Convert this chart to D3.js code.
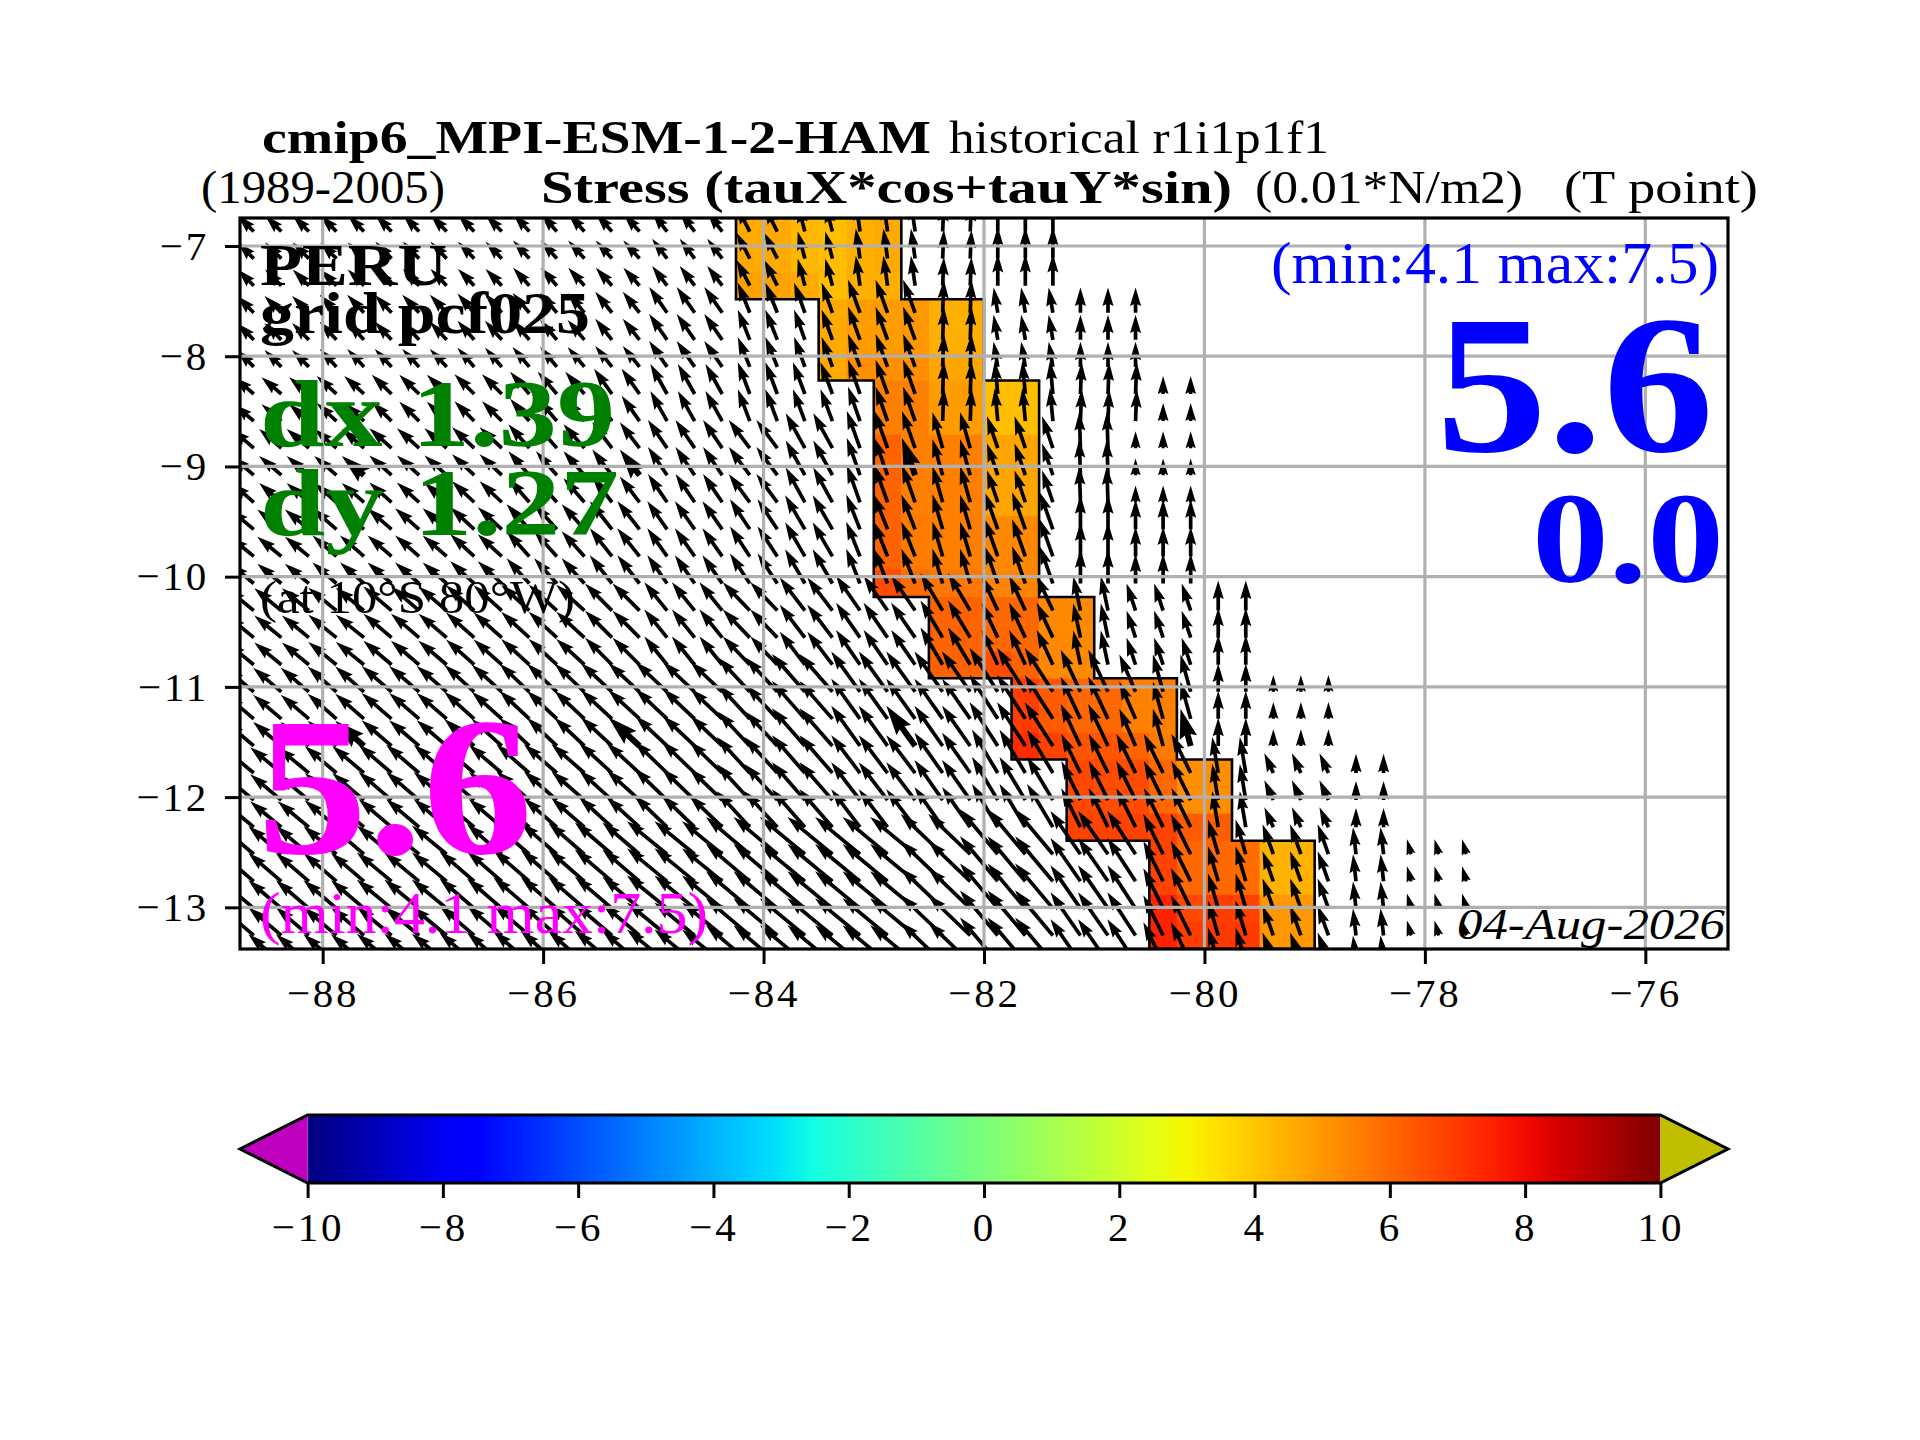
<!DOCTYPE html>
<html>
<head>
<meta charset="utf-8">
<script src="https://cdn.jsdelivr.net/npm/d3@7"></script>
<style>
  body { margin: 0; background: #fff; }
  text { font-family: "Liberation Serif", serif; }
</style>
</head>
<body>
<svg id="chart" width="1920" height="1440"></svg>
<script>
// axis ticks
const lon_ticks = [-88, -86, -84, -82, -80, -78, -76];
const lat_ticks = [-7, -8, -9, -10, -11, -12, -13];
const cbar_ticks = [-10, -8, -6, -4, -2, 0, 2, 4, 6, 8, 10];

// colored cells: one row per grid row from the top, first filled column then values
const cell_first_col = [18, 18, 18, 21, 21, 21, 23, 23, 23, 23, 23, 23, 23, 23, 25, 25, 25, 28, 28, 28, 30, 30, 30, 33, 33, 33, 33];
const cell_values = [
    [4.6, 4.6, 4.3, 4.15, 4.5, 4.6],
    [4.6, 4.6, 4.3, 4.15, 4.5, 4.6],
    [4.8, 4.8, 4.6, 4.15, 4.5, 4.5],
    [4.6, 4.9, 4.9, 5.0, 4.5, 4.5],
    [4.6, 4.9, 4.9, 5.0, 4.5, 4.5],
    [4.6, 5.2, 5.2, 5.2, 4.7, 4.7],
    [5.5, 5.5, 4.9, 4.9, 4.15, 4.15],
    [5.5, 5.5, 4.9, 4.9, 4.15, 4.15],
    [6.1, 5.5, 5.5, 5.5, 4.7, 4.7],
    [6.1, 5.5, 5.5, 5.5, 4.7, 4.7],
    [6.1, 5.5, 5.5, 5.5, 4.7, 4.7],
    [6.1, 5.6, 5.5, 5.5, 5.3, 5.3],
    [6.1, 5.6, 5.5, 5.5, 5.3, 5.3],
    [6.6, 5.9, 5.7, 5.7, 5.4, 5.4],
    [6.1, 6.1, 6.0, 6.0, 5.3, 5.3],
    [6.1, 6.1, 6.0, 6.0, 5.3, 5.3],
    [6.1, 6.1, 6.6, 6.1, 5.3, 5.3],
    [6.9, 6.3, 6.0, 6.0, 5.5, 5.5],
    [6.9, 6.3, 6.0, 6.0, 5.5, 5.5],
    [7.3, 6.8, 6.4, 6.4, 6.1, 5.6],
    [6.7, 6.6, 6.6, 6.0, 5.2, 5.2],
    [6.7, 6.6, 6.6, 6.0, 5.2, 5.2],
    [6.8, 6.8, 6.8, 6.8, 6.3, 6.2],
    [6.8, 6.0, 6.0, 5.9, 4.4, 4.4],
    [6.8, 6.0, 6.0, 5.9, 4.4, 4.4],
    [7.5, 6.7, 6.9, 6.8, 5.0, 5.0],
    [7.5, 6.9, 7.0, 7.0, 5.0, 5.0]
];

// stress vectors: the source grid is coarser than the plot grid, so each
// block of columns / rows below holds one (tauX, tauY) pair. null = land
// last block runs one row past the frame, those heads poke in at the bottom
const block_col_starts = [0, 3, 5, 8, 10, 13, 15, 18, 20, 22, 25, 27, 30, 32, 33, 35, 37, 40, 42, 45];
const block_row_starts = [0, 3, 6, 8, 11, 14, 17, 20, 23, 28];
const tau_x = [
    [-2.7, -2.7, -2.7, -2.7, -2.7, -2.7, -2.5, -2.2, -1.2, -0.7, 0.2, 0, null, null, null, null, null, null, null],
    [-2.8, -2.8, -2.8, -2.8, -2.8, -2.8, -3.0, -2.0, -1.8, -2.0, 0.2, -0.7, 0, 0, null, null, null, null, null],
    [-3.3, -3.3, -3.3, -3.3, -3.2, -3.0, -2.8, -2.0, -2.0, -2.0, 0.2, -0.5, 0.2, 0.2, 0, null, null, null, null],
    [-3.7, -3.7, -3.7, -3.7, -3.5, -3.3, -3.2, -3.5, -3.2, -2.2, -1.7, -1.8, -0.2, 0, 0, null, null, null, null],
    [-4.0, -4.0, -4.0, -4.0, -3.8, -3.7, -3.3, -3.3, -3.3, -2.3, -1.7, -2.2, 0, 0, 0, null, null, null, null],
    [-4.5, -4.7, -4.7, -4.7, -4.7, -4.5, -3.8, -4.5, -4.2, -4.0, -3.7, -2.7, -1.2, -1.5, -1.5, 0, null, null, null],
    [-4.7, -4.8, -5.0, -5.0, -5.0, -5.2, -5.3, -5.3, -5.5, -4.8, -4.7, -4.7, -3.3, -2.7, -1.7, 0, 0, null, null],
    [-5.2, -5.3, -5.5, -5.5, -5.5, -5.5, -5.5, -5.5, -5.5, -4.8, -4.7, -4.3, -3.2, -3.2, -3.2, -1.0, -1.5, 0, null],
    [-5.5, -5.5, -5.8, -5.8, -6.0, -6.2, -6.7, -7.3, -7.5, -7.5, -7.0, -6.3, -5.0, -4.7, -3.3, -1.7, -1.8, -0.5, -0.7]
];
const tau_y = [
    [2.7, 2.7, 2.8, 2.8, 3.0, 3.0, 3.3, 4.3, 4.5, 5.0, 4.8, 5.3, null, null, null, null, null, null, null],
    [2.8, 3.0, 3.0, 3.2, 3.3, 3.5, 4.3, 5.0, 5.0, 5.5, 5.5, 4.2, 4.2, 4.2, null, null, null, null, null],
    [2.8, 3.0, 3.2, 3.3, 3.7, 4.2, 5.0, 5.3, 5.3, 5.7, 5.5, 5.5, 5.3, 5.3, 3.0, null, null, null, null],
    [3.2, 3.2, 3.3, 3.5, 4.0, 4.3, 4.7, 4.7, 5.8, 6.2, 6.0, 5.3, 6.0, 2.8, 2.8, null, null, null, null],
    [3.3, 3.5, 3.5, 3.7, 4.2, 4.7, 4.7, 5.0, 5.7, 5.8, 5.8, 6.2, 5.7, 5.0, 5.0, null, null, null, null],
    [3.7, 3.8, 4.0, 4.2, 4.3, 4.5, 4.7, 4.7, 5.5, 5.8, 6.2, 5.8, 5.7, 4.5, 4.5, 5.0, null, null, null],
    [4.0, 4.2, 4.3, 4.5, 4.7, 4.8, 5.0, 5.7, 6.3, 6.7, 6.7, 7.3, 7.0, 6.2, 6.2, 4.7, 2.8, null, null],
    [4.3, 4.5, 4.7, 4.7, 4.8, 5.0, 5.3, 6.0, 6.3, 6.3, 6.7, 7.2, 6.5, 6.5, 6.5, 6.0, 3.3, 3.2, null],
    [4.7, 4.7, 4.8, 5.0, 5.2, 5.3, 5.5, 6.2, 6.2, 6.2, 6.7, 7.5, 7.2, 7.2, 6.7, 5.8, 5.0, 4.5, 2.5]
];
// every 10th point is drawn again, heavier
const heavy_cols = [4, 14, 24, 34];
const heavy_rows = [9, 19];

// jet colormap knots
const jet_r = [[0, 0], [0.35, 0], [0.66, 1], [0.89, 1], [1, 0.5]];
const jet_g = [[0, 0], [0.125, 0], [0.375, 1], [0.64, 1], [0.91, 0], [1, 0]];
const jet_b = [[0, 0.5], [0.11, 1], [0.34, 1], [0.65, 0], [1, 0]];

const n_cols = 54, n_rows = 27;
const fig = { left: 240, right: 1728, top: 218, bottom: 949 };
const cb = { left: 307.6, right: 1660.4, top: 1115, bottom: 1183, tip_left: 240, tip_right: 1728 };

const svg = d3.select("#chart");

const x_scale = d3.scaleLinear().domain([-88.75, -75.25]).range([fig.left, fig.right]);
const y_scale = d3.scaleLinear().domain([-6.746, -13.378]).range([fig.top, fig.bottom]);
const cb_scale = d3.scaleLinear().domain([-10, 10]).range([cb.left, cb.right]);
const stress_px = d3.scaleLinear().domain([0, 1]).range([0, 6]);   // px per 0.01 N/m2

const lon_edge = d3.scaleLinear().domain([0, n_cols]).range([-88.75, -75.25]);
const lat_edge = d3.scaleLinear().domain([0, n_rows]).range([-6.746, -13.378]);

const channel = knots => d3.scaleLinear().domain(knots.map(k => k[0])).range(knots.map(k => k[1]));
const ch_r = channel(jet_r), ch_g = channel(jet_g), ch_b = channel(jet_b);

function jet(value) {
    const t = (value + 10) / 20;
    return d3.rgb(ch_r(t) * 255, ch_g(t) * 255, ch_b(t) * 255).formatHex();
}

function minus(d) { return String(d).replace("-", "\u2212"); }

const defs = svg.append("defs");
defs.append("clipPath").attr("id", "plot_clip").append("rect")
    .attr("x", fig.left).attr("y", fig.top)
    .attr("width", fig.right - fig.left).attr("height", fig.bottom - fig.top);

const plot = svg.append("g").attr("clip-path", "url(#plot_clip)");

// ---------- cells
const cells = [];
cell_values.forEach((vals, k) => vals.forEach((v, i) => cells.push({ k: k, c: cell_first_col[k] + i, v: v })));
const filled = new Set(cells.map(d => d.k + "_" + d.c));

plot.append("g").selectAll("rect").data(cells).join("rect")
    .attr("x", d => x_scale(lon_edge(d.c)))
    .attr("y", d => y_scale(lat_edge(d.k)))
    .attr("width", d => x_scale(lon_edge(d.c + 1)) - x_scale(lon_edge(d.c)) + 0.5)
    .attr("height", d => y_scale(lat_edge(d.k + 1)) - y_scale(lat_edge(d.k)) + 0.5)
    .attr("fill", d => jet(d.v));

// outline of the filled area
const outline = d3.path();
cells.forEach(d => {
    const x0 = x_scale(lon_edge(d.c)), x1 = x_scale(lon_edge(d.c + 1));
    const y0 = y_scale(lat_edge(d.k)), y1 = y_scale(lat_edge(d.k + 1));
    if (!filled.has(d.k + "_" + (d.c - 1))) { outline.moveTo(x0, y0); outline.lineTo(x0, y1); }
    if (!filled.has(d.k + "_" + (d.c + 1))) { outline.moveTo(x1, y0); outline.lineTo(x1, y1); }
    if (!filled.has((d.k - 1) + "_" + d.c)) { outline.moveTo(x0, y0); outline.lineTo(x1, y0); }
    if (!filled.has((d.k + 1) + "_" + d.c)) { outline.moveTo(x0, y1); outline.lineTo(x1, y1); }
});
plot.append("path").attr("d", outline.toString())
    .attr("fill", "none").attr("stroke", "#000").attr("stroke-width", 2.6).attr("stroke-linecap", "square");

// ---------- arrows
function block_index(starts, i) { return d3.bisectRight(starts, i) - 1; }

const arrows = [];
d3.range(n_rows + 1).forEach(k => {
    const r = block_index(block_row_starts, k);
    d3.range(45).forEach(c => {
        const g = block_index(block_col_starts, c);
        if (tau_x[r][g] === null) return;
        arrows.push({
            k: k, c: c,
            u: stress_px(tau_x[r][g]), v: stress_px(tau_y[r][g]),
            heavy: heavy_cols.includes(c) && heavy_rows.includes(k)
        });
    });
});

function arrow_path(len, w) {
    // quiver style arrow along +x: shaft width w, head 3w wide, 5w long
    const shrink = Math.min(1, len / (5 * w));
    const hl = 5 * w * shrink, hw = 1.5 * w * shrink, ax = 4.5 * w * shrink, sw = w * shrink / 2;
    const p = d3.path();
    p.moveTo(0, -sw); p.lineTo(len - ax, -sw); p.lineTo(len - hl, -hw);
    p.lineTo(len, 0);
    p.lineTo(len - hl, hw); p.lineTo(len - ax, sw); p.lineTo(0, sw);
    p.closePath();
    return p.toString();
}

plot.append("g").selectAll("path").data(arrows).join("path")
    .attr("d", d => arrow_path(Math.hypot(d.u, d.v), d.heavy ? 6 : 3.7))
    .attr("transform", d => {
        const px = x_scale((lon_edge(d.c) + lon_edge(d.c + 1)) / 2);
        const py = y_scale((lat_edge(d.k) + lat_edge(d.k + 1)) / 2);
        const ang = Math.atan2(-d.v, d.u) * 180 / Math.PI;
        return `translate(${px},${py}) rotate(${ang})`;
    })
    .attr("fill", "#000");

// ---------- grid
plot.append("g").selectAll("line").data(lon_ticks).join("line")
    .attr("x1", d => x_scale(d)).attr("x2", d => x_scale(d))
    .attr("y1", fig.top).attr("y2", fig.bottom)
    .attr("stroke", "#b0b0b0").attr("stroke-width", 3.2);
plot.append("g").selectAll("line").data(lat_ticks).join("line")
    .attr("y1", d => y_scale(d)).attr("y2", d => y_scale(d))
    .attr("x1", fig.left).attr("x2", fig.right)
    .attr("stroke", "#b0b0b0").attr("stroke-width", 3.2);

// ---------- axes
function style_axis(g) {
    g.select(".domain").remove();
    g.selectAll(".tick line").attr("stroke", "#000").attr("stroke-width", 3);
    g.selectAll(".tick text").attr("font-size", 41).attr("fill", "#000").attr("letter-spacing", 2.8)
        .attr("font-family", "Liberation Serif");
}

svg.append("g").attr("transform", `translate(0,${fig.bottom})`)
    .call(d3.axisBottom(x_scale).tickValues(lon_ticks).tickFormat(minus).tickSize(15).tickPadding(14))
    .call(style_axis);
svg.append("g").attr("transform", `translate(${fig.left},0)`)
    .call(d3.axisLeft(y_scale).tickValues(lat_ticks).tickFormat(minus).tickSize(15).tickPadding(16))
    .call(style_axis);

svg.append("rect")
    .attr("x", fig.left).attr("y", fig.top)
    .attr("width", fig.right - fig.left).attr("height", fig.bottom - fig.top)
    .attr("fill", "none").attr("stroke", "#000").attr("stroke-width", 3.2);

// ---------- colorbar
const cb_mid = (cb.top + cb.bottom) / 2;
const cb_steps = d3.range(0, 20.5, 0.5);
const cb_grad = defs.append("linearGradient").attr("id", "cb_grad");
cb_grad.selectAll("stop").data(cb_steps).join("stop")
    .attr("offset", d => d / 20)
    .attr("stop-color", d => jet(d - 10));
svg.append("rect")
    .attr("x", cb.left).attr("y", cb.top)
    .attr("width", cb.right - cb.left).attr("height", cb.bottom - cb.top)
    .attr("fill", "url(#cb_grad)");

const tri = d3.line();
svg.append("path")
    .attr("d", tri([[cb.left, cb.top], [cb.tip_left, cb_mid], [cb.left, cb.bottom]]) + "Z")
    .attr("fill", "#bf00bf");
svg.append("path")
    .attr("d", tri([[cb.right, cb.top], [cb.tip_right, cb_mid], [cb.right, cb.bottom]]) + "Z")
    .attr("fill", "#bfbf00");
svg.append("path")
    .attr("d", tri([[cb.left, cb.top], [cb.right, cb.top], [cb.tip_right, cb_mid], [cb.right, cb.bottom],
                    [cb.left, cb.bottom], [cb.tip_left, cb_mid]]) + "Z")
    .attr("fill", "none").attr("stroke", "#000").attr("stroke-width", 3);

svg.append("g").attr("transform", `translate(0,${cb.bottom})`)
    .call(d3.axisBottom(cb_scale).tickValues(cbar_ticks).tickFormat(minus).tickSize(15).tickPadding(14))
    .call(style_axis);

// ---------- texts: x0, x1 are the measured ends of each string
function label(str, x0, x1, baseline, size, color, opts) {
    opts = opts || {};
    svg.append("text")
        .attr("x", x0).attr("y", baseline)
        .attr("textLength", x1 - x0).attr("lengthAdjust", "spacingAndGlyphs")
        .attr("font-size", size)
        .attr("font-weight", opts.bold ? "bold" : "normal")
        .attr("font-style", opts.italic ? "italic" : "normal")
        .attr("fill", color)
        .text(str);
}

label("cmip6_MPI-ESM-1-2-HAM", 262, 931, 153, 47, "#000", { bold: true });
label("historical r1i1p1f1", 949, 1329, 153, 46, "#000");
label("(1989-2005)", 201, 445, 203, 46, "#000");
label("Stress (tauX*cos+tauY*sin)", 541, 1232, 203, 47, "#000", { bold: true });
label("(0.01*N/m2)", 1255, 1523, 203, 46, "#000");
label("(T point)", 1564, 1758, 203, 46, "#000");

label("PERU", 260, 447, 285, 60, "#000", { bold: true });
label("grid pcf025", 260, 590, 333, 60, "#000", { bold: true });
label("dx 1.39", 260, 615, 446, 95, "#008000", { bold: true });
label("dy 1.27", 260, 619, 535, 95, "#008000", { bold: true });
label("(at 10\u00b0S 80\u00b0W)", 260, 575, 613, 47, "#000");

label("5.6", 257, 533, 853, 197, "#ff00ff", { bold: true });
label("(min:4.1 max:7.5)", 260, 708, 933, 59, "#ff00ff");

label("(min:4.1 max:7.5)", 1271, 1719, 283, 59, "#0000ff");
label("5.6", 1436, 1714, 451, 197, "#0000ff", { bold: true });
label("0.0", 1532, 1724, 582, 130, "#0000ff", { bold: true });

label("04-Aug-2026", 1457, 1725, 939, 44, "#000", { italic: true });
</script>
</body>
</html>
